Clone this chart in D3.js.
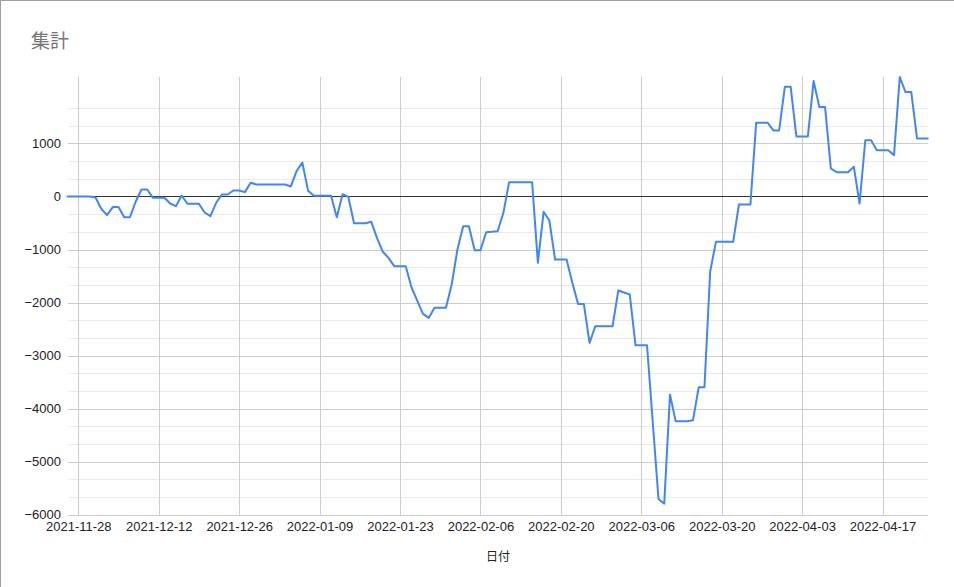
<!DOCTYPE html>
<html>
<head>
<meta charset="utf-8">
<script src="https://cdn.jsdelivr.net/npm/d3@7"></script>
<style>
  html, body { margin: 0; padding: 0; background: #fff; }
  svg { display: block; }
</style>
</head>
<body>
<svg id="chart" width="954" height="587"></svg>
<script>
// ---- data ----
const chartTitle = "集計";
const xAxisTitle = "日付";
const startDate = "2021-11-26"; // first daily point
const values = [
  0, 0, 0, 0, 0, -20, -232, -352, -200, -200,
  -390, -390, -94, 132, 132, -25, -25, -25, -132, -183,
  19, -138, -138, -138, -302, -371, -119, 38, 38, 113,
  113, 82, 258, 226, 226, 226, 226, 226, 226, 189,
  478, 640, 110, 15, 13, 13, 13, -390, 43, -6,
  -504, -504, -504, -478, -780, -1043, -1157, -1314, -1314, -1314,
  -1711, -1962, -2214, -2289, -2100, -2100, -2100, -1660, -1000, -560,
  -560, -1013, -1013, -673, -665, -654, -308, 270, 270, 270,
  270, 270, -1250, -289, -453, -1189, -1189, -1189, -1628, -2025,
  -2025, -2760, -2447, -2447, -2447, -2447, -1774, -1810, -1849, -2805,
  -2805, -2805, -4255, -5704, -5792, -3736, -4240, -4240, -4240, -4220,
  -3597, -3597, -1409, -855, -855, -855, -855, -151, -151, -151,
  1390, 1390, 1390, 1245, 1245, 2070, 2070, 1132, 1132, 1132,
  2176, 1685, 1685, 528, 459, 459, 459, 560, -132, 1062,
  1062, 874, 874, 874, 780, 2253, 1968, 1968, 1094, 1094,
  1094
];
const xTickLabels = ["2021-11-28", "2021-12-12", "2021-12-26", "2022-01-09", "2022-01-23",
  "2022-02-06", "2022-02-20", "2022-03-06", "2022-03-20", "2022-04-03", "2022-04-17"];
const yTickValues = [-6000, -5000, -4000, -3000, -2000, -1000, 0, 1000];
const yMin = -6000;

// ---- chart ----
(function () {
const parse = d3.timeParse("%Y-%m-%d");
const fmt = d3.timeFormat("%Y-%m-%d");
const t0 = parse(startDate);
const data = values.map((v, i) => ({ date: d3.timeDay.offset(t0, i), value: v }));

const svg = d3.select("#chart");
const pL = 68, pR = 928, pT = 77, pB = 514.7;

const x = d3.scaleTime()
  .domain(d3.extent(data, d => d.date))
  .range([66.8, 928.5]);
const y = d3.scaleLinear()
  .domain([yMin, d3.max(values)])
  .range([pB, pT]);

// border
svg.append("line").attr("x1", 0.5).attr("x2", 0.5).attr("y1", 0).attr("y2", 587)
  .attr("stroke", "#9e9e9e").attr("stroke-width", 1);
svg.append("line").attr("x1", 0).attr("x2", 954).attr("y1", 0.5).attr("y2", 0.5)
  .attr("stroke", "#9e9e9e").attr("stroke-width", 1);

// title
svg.append("text")
  .attr("x", 31).attr("y", 48)
  .attr("font-family", "'Noto Sans CJK JP', 'Noto Sans', sans-serif")
  .attr("font-size", 19)
  .attr("fill", "#757575")
  .text(chartTitle);

const grid = svg.append("g");

// minor horizontal gridlines (thirds)
const minorVals = [];
for (let k = 0; k < yTickValues.length; k++) {
  const base = yTickValues[k];
  [1, 2].forEach(j => {
    const v = base + j * 1000 / 3;
    if (v < d3.max(values)) minorVals.push(v);
  });
}
grid.selectAll("line.minor").data(minorVals).join("line")
  .attr("class", "minor")
  .attr("x1", pL).attr("x2", pR)
  .attr("y1", d => Math.round(y(d)) + 0.5).attr("y2", d => Math.round(y(d)) + 0.5)
  .attr("stroke", "#ebebeb").attr("stroke-width", 1);

// major horizontal gridlines
grid.selectAll("line.major").data(yTickValues.filter(v => v !== 0)).join("line")
  .attr("class", "major")
  .attr("x1", pL).attr("x2", pR)
  .attr("y1", d => Math.round(y(d)) + 0.5).attr("y2", d => Math.round(y(d)) + 0.5)
  .attr("stroke", "#cccccc").attr("stroke-width", 1);

// vertical gridlines
const xTickDates = xTickLabels.map(parse);
grid.selectAll("line.vx").data(xTickDates).join("line")
  .attr("class", "vx")
  .attr("x1", d => Math.round(x(d)) + 0.5).attr("x2", d => Math.round(x(d)) + 0.5)
  .attr("y1", pT).attr("y2", pB)
  .attr("stroke", "#cccccc").attr("stroke-width", 1);

// y axis labels
const yAxis = d3.axisLeft(y).tickValues(yTickValues).tickSize(0).tickPadding(7)
  .tickFormat(d3.format("d"));
const gy = svg.append("g").attr("transform", `translate(${pL},0)`).call(yAxis);
gy.select(".domain").remove();
gy.selectAll("text")
  .attr("font-family", "'Liberation Sans', Arial, sans-serif")
  .attr("font-size", 13)
  .attr("fill", "#222");

// x axis labels
const xAxis = d3.axisBottom(x).tickValues(xTickDates).tickSize(0).tickPadding(7)
  .tickFormat(fmt);
const gx = svg.append("g").attr("transform", `translate(0,${pB})`).call(xAxis);
gx.select(".domain").remove();
gx.selectAll("text")
  .attr("font-family", "'Liberation Sans', Arial, sans-serif")
  .attr("font-size", 13)
  .attr("fill", "#222");

// baseline at zero
svg.append("line")
  .attr("x1", pL).attr("x2", pR)
  .attr("y1", Math.round(y(0)) + 0.5).attr("y2", Math.round(y(0)) + 0.5)
  .attr("stroke", "#333").attr("stroke-width", 1);

// line
const line = d3.line().x(d => x(d.date)).y(d => y(d.value));
svg.append("path")
  .datum(data)
  .attr("fill", "none")
  .attr("stroke", "#4285f4")
  .attr("stroke-width", 2)
  .attr("stroke-linejoin", "round")
  .attr("d", line);

// x axis title
svg.append("text")
  .attr("x", 498).attr("y", 561)
  .attr("text-anchor", "middle")
  .attr("font-family", "'Noto Sans CJK JP', 'Noto Sans', sans-serif")
  .attr("font-size", 12)
  .attr("fill", "#222")
  .text(xAxisTitle);
})();
</script>
</body>
</html>
